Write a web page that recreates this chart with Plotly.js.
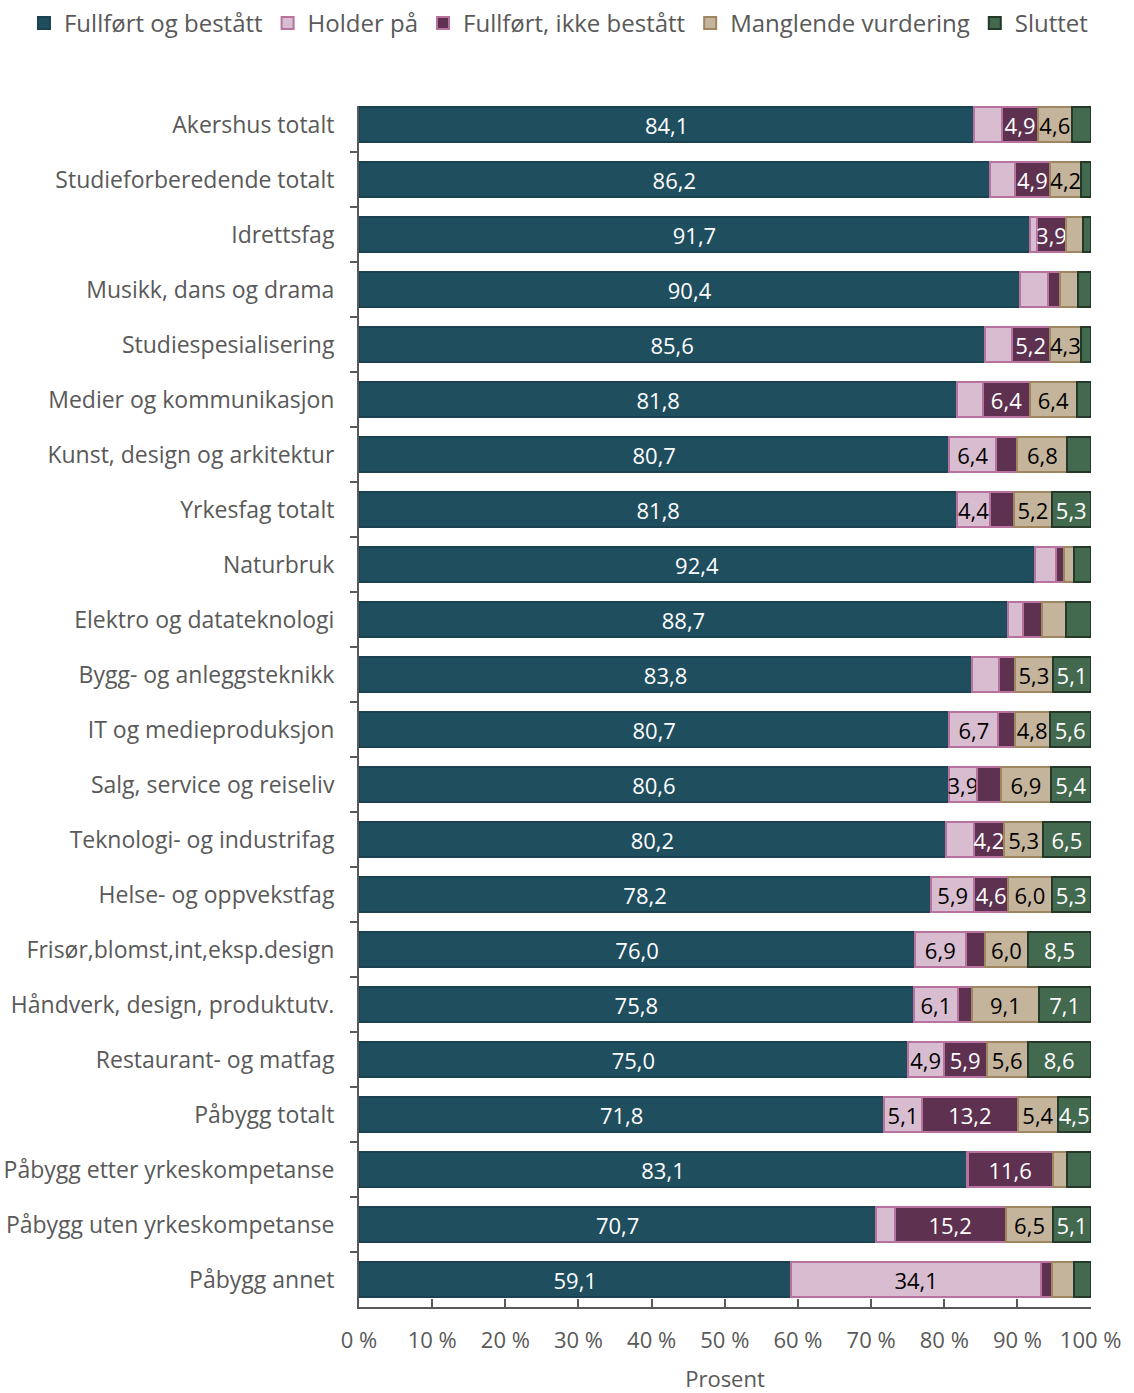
<!DOCTYPE html>
<html>
<head>
<meta charset="utf-8">
<script src="https://cdn.plot.ly/plotly-3.0.1.min.js"></script>
<style>html,body{margin:0;padding:0;background:#fff;}#chart{width:1134px;height:1393px;}</style>
</head>
<body>
<div id="chart"></div>
<script>
const categories = [
  "Akershus totalt","Studieforberedende totalt","Idrettsfag","Musikk, dans og drama",
  "Studiespesialisering","Medier og kommunikasjon","Kunst, design og arkitektur","Yrkesfag totalt",
  "Naturbruk","Elektro og datateknologi","Bygg- og anleggsteknikk","IT og medieproduksjon",
  "Salg, service og reiseliv","Teknologi- og industrifag","Helse- og oppvekstfag","Frisør,blomst,int,eksp.design",
  "Håndverk, design, produktutv.","Restaurant- og matfag","Påbygg totalt","Påbygg etter yrkeskompetanse",
  "Påbygg uten yrkeskompetanse","Påbygg annet"
];
const fullfortBestatt = [84.1,86.2,91.7,90.4,85.6,81.8,80.7,81.8,92.4,88.7,83.8,80.7,80.6,80.2,78.2,76.0,75.8,75.0,71.8,83.1,70.7,59.1];
const holderPa        = [3.8,3.4,1.0,3.8,3.6,3.5,6.4,4.4,2.9,2.1,3.7,6.7,3.9,3.8,5.9,6.9,6.1,4.9,5.1,0.1,2.5,34.1];
const fullfortIkke    = [4.9,4.9,3.9,1.6,5.2,6.4,2.9,3.3,1.0,2.6,2.1,2.2,3.2,4.2,4.6,2.6,1.9,5.9,13.2,11.6,15.2,1.5];
const manglende       = [4.6,4.2,2.4,2.5,4.3,6.4,6.8,5.2,1.4,3.2,5.3,4.8,6.9,5.3,6.0,6.0,9.1,5.6,5.4,2.0,6.5,3.0];
const sluttet         = [2.6,1.3,1.0,1.7,1.3,1.9,3.2,5.3,2.3,3.4,5.1,5.6,5.4,6.5,5.3,8.5,7.1,8.6,4.5,3.3,5.1,2.3];
const seriesNames = ["Fullført og bestått","Holder på","Fullført, ikke bestått","Manglende vurdering","Sluttet"];
const xTickVals = [0,10,20,30,40,50,60,70,80,90,100];
const xTickText = ["0 %","10 %","20 %","30 %","40 %","50 %","60 %","70 %","80 %","90 %","100 %"];

const fills   = ["#1F4E5F","#D8BDD0","#5E3150","#C4B49B","#43694F"];
const borders = ["#1A4250","#B8729E","#B8729E","#9E8660","#25392B"];
const txtCol  = ["#ffffff","#000000","#ffffff","#000000","#ffffff"];
const FONT = "'Open Sans', Lato, sans-serif";

function fmt(v){ return v.toFixed(1).replace('.', ','); }
const all = [fullfortBestatt, holderPa, fullfortIkke, manglende, sluttet];
const traces = all.map((vals, i) => ({
  type: 'bar', orientation: 'h', name: seriesNames[i],
  y: categories, x: vals,
  text: vals.map(v => (i === 0 || v >= 3.9) ? fmt(v) : ''),
  textposition: 'inside', insidetextanchor: 'middle', textangle: 0,
  constraintext: 'none', cliponaxis: false,
  textfont: {family: FONT, size: 22, color: txtCol[i]},
  marker: {color: fills[i], line: {color: borders[i], width: 2}},
  hoverinfo: 'skip'
}));

const layout = {
  width: 1134, height: 1393,
  margin: {l: 359, r: 43, t: 106, b: 86, autoexpand: false},
  barmode: 'stack', bargap: 0.36,
  paper_bgcolor: '#fff', plot_bgcolor: '#fff',
  font: {family: FONT, color: '#595959', size: 22},
  uniformtext: {mode: 'show', minsize: 22},
  showlegend: true,
  legend: {orientation: 'h', x: -0.4577, xanchor: 'left', y: 1.0875, yanchor: 'top',
           bgcolor: 'rgba(0,0,0,0)', borderwidth: 0,
           font: {family: FONT, size: 24, color: '#595959'}, itemwidth: 30, traceorder: 'normal',
           tracegroupgap: 0},
  xaxis: {range: [0, 100.05], tickvals: xTickVals, ticktext: xTickText, showgrid: false, zeroline: false,
          showline: true, linecolor: '#595959', linewidth: 2, ticks: 'inside', ticklen: 8, tickwidth: 2,
          tickcolor: '#595959', tickfont: {family: FONT, size: 22, color: '#595959'}, ticklabelstandoff: 13,
          title: {text: 'Prosent', font: {family: FONT, size: 22, color: '#595959'}, standoff: 25}, fixedrange: true},
  yaxis: {autorange: false, range: [21.5, -0.34], type: 'category', showgrid: false, zeroline: false,
          showline: true, linecolor: '#595959', linewidth: 2, ticks: 'outside', tickson: 'boundaries',
          ticklen: 7, tickwidth: 2, tickcolor: '#595959', ticklabelstandoff: 18,
          tickfont: {family: FONT, size: 23, color: '#595959'}, fixedrange: true}
};
Plotly.newPlot('chart', traces, layout, {displayModeBar: false, staticPlot: true});
</script>
</body>
</html>
